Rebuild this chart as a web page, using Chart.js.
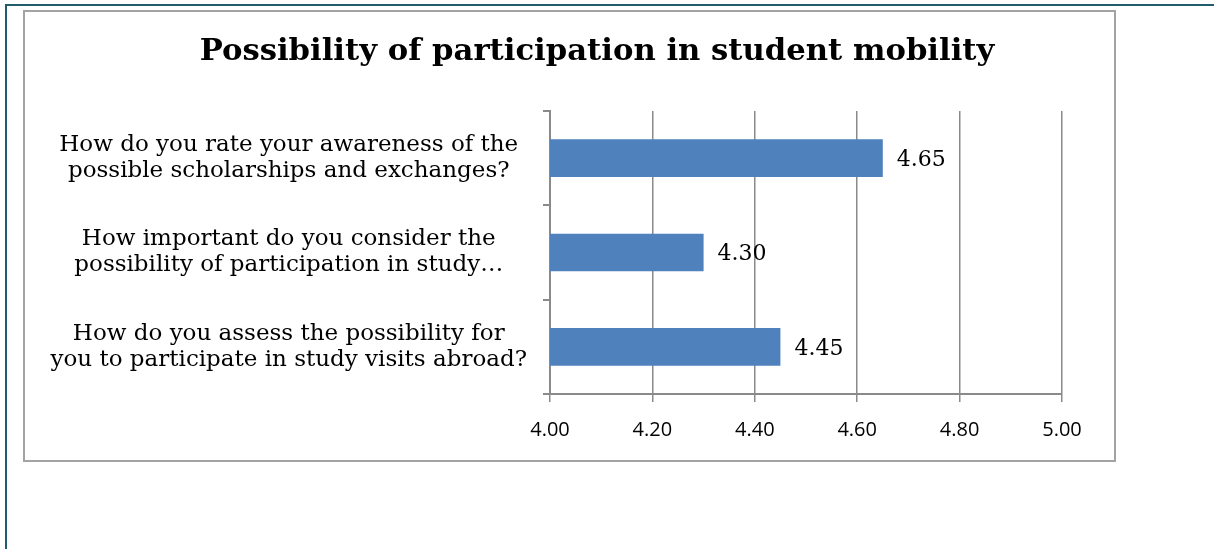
<!DOCTYPE html>
<html>
<head>
<meta charset="utf-8">
<style>
  html, body { margin: 0; padding: 0; background: #fff; }
  #page { position: relative; width: 1214px; height: 549px; overflow: hidden; }
  #outer { position: absolute; left: 5px; top: 4px; right: -10px; bottom: -10px;
           border-top: 2px solid #1f5c6c; border-left: 2px solid #1f5c6c; }
  #box { position: absolute; left: 23px; top: 10px; width: 1089px; height: 448px;
         border: 2px solid #a3a3a3; }
  #chart { position: absolute; left: 0; top: 0; }
</style>
<!-- Chart.js Library -->
<script src="https://cdn.jsdelivr.net/npm/chart.js"></script>
</head>
<body>
<div id="page">
  <div id="outer"></div>
  <div id="box"></div>
  <canvas id="chart" width="1214" height="549"></canvas>
</div>

<script>
    // Données du graphique
    var questions = [
        ['How do you rate your awareness of the', 'possible scholarships and exchanges?'],
        ['How important do you consider the', 'possibility of participation in study\u2026'],
        ['How do you assess the possibility for', 'you to participate in study visits abroad?']
    ];
    var scores = [4.65, 4.30, 4.45];
    var axisMin = 4.0;
    var axisMax = 5.0;
    var axisStep = 0.2;

    // Etiquettes de valeur à droite des barres
    var valueLabels = {
        id: 'valueLabels',
        afterDatasetsDraw: function(chart) {
            var ctx = chart.ctx;
            var meta = chart.getDatasetMeta(0);
            ctx.save();
            ctx.font = '22px "DejaVu Serif"';
            ctx.fillStyle = '#000';
            ctx.textAlign = 'left';
            ctx.textBaseline = 'middle';
            meta.data.forEach(function(bar, i) {
                ctx.fillText(scores[i].toFixed(2), bar.x + 14, bar.y + 2);
            });
            ctx.restore();
        }
    };

    // Centrer le titre comme dans l'original (décalé vers la droite)
    var titleShift = {
        id: 'titleShift',
        afterLayout: function(chart) {
            if (chart.titleBlock) {
                chart.titleBlock.left = 132;
                chart.titleBlock.right = chart.chartArea.right;
            }
        }
    };

    document.addEventListener("DOMContentLoaded", function() {
        var ctx = document.getElementById('chart').getContext('2d');
        var chart = new Chart(ctx, {
            type: 'bar',
            data: {
                labels: questions,
                datasets: [{
                    data: scores,
                    backgroundColor: '#4f81bd',
                    borderWidth: 0,
                    barPercentage: 0.8,
                    categoryPercentage: 0.5
                }]
            },
            options: {
                indexAxis: 'y',
                responsive: false,
                animation: false,
                devicePixelRatio: 1,
                layout: { padding: { top: 10, left: 30, right: 152, bottom: 100 } },
                scales: {
                    x: {
                        min: axisMin,
                        max: axisMax,
                        afterFit: function(s) { s.height = 55; },
                        ticks: {
                            stepSize: axisStep,
                            padding: 16,
                            color: '#000',
                            font: { family: '"Open Sans"', size: 20 },
                            callback: function(v) { return Number(v).toFixed(2); }
                        },
                        grid: { color: '#8a8a8a', lineWidth: 1.5, tickLength: 8 },
                        border: { color: '#8a8a8a', width: 2 }
                    },
                    y: {
                        afterFit: function(s) { s.width = 550 - 30; },
                        ticks: {
                            crossAlign: 'center',
                            padding: 16,
                            color: '#000',
                            font: { family: '"DejaVu Serif"', size: 23, lineHeight: 26 / 23 }
                        },
                        grid: { drawOnChartArea: false, color: '#8a8a8a', lineWidth: 2, tickLength: 7 },
                        border: { color: '#8a8a8a', width: 2 }
                    }
                },
                plugins: {
                    legend: { display: false },
                    tooltip: { enabled: false },
                    title: {
                        display: true,
                        text: 'Possibility of participation in student mobility',
                        color: '#000',
                        font: { family: '"DejaVu Serif"', size: 30.7, weight: 'bold', lineHeight: 36 / 30.7 },
                        padding: { top: 24, bottom: 41 }
                    }
                }
            },
            plugins: [valueLabels, titleShift]
        });
    });
</script>
</body>
</html>
